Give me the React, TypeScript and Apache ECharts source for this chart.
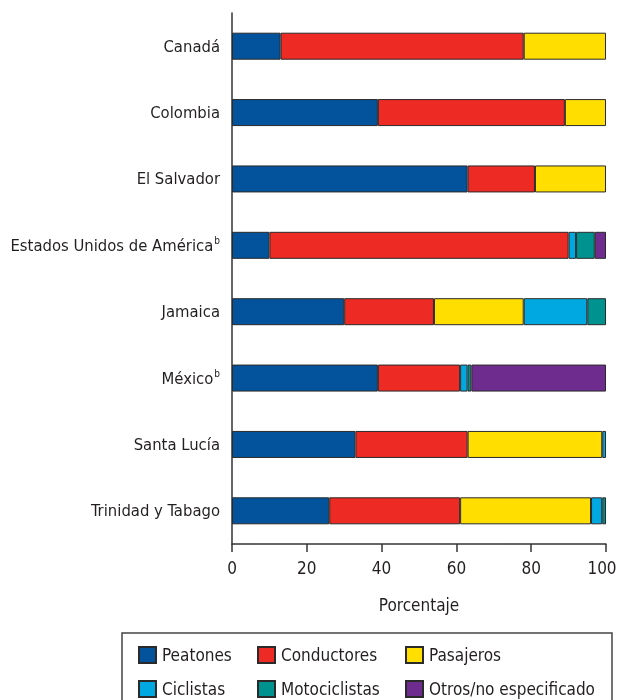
import React, { useEffect, useRef } from "react";
import * as echarts from "echarts";

const categories = [
  "Canadá",
  "Colombia",
  "El Salvador",
  "Estados Unidos de América",
  "Jamaica",
  "México",
  "Santa Lucía",
  "Trinidad y Tabago",
];
const superscripts = ["", "", "", "b", "", "b", "", ""];

const peatones = [13, 39, 63, 10, 30, 39, 33, 26];
const conductores = [65, 50, 18, 80, 24, 22, 30, 35];
const pasajeros = [22, 11, 19, 0, 24, 0, 36, 35];
const ciclistas = [0, 0, 0, 2, 17, 2, 1, 3];
const motociclistas = [0, 0, 0, 5, 5, 1, 0, 1];
const otros = [0, 0, 0, 3, 0, 36, 0, 0];

const xTicks = [0, 20, 40, 60, 80, 100];

const seriesDefs = [
  { name: "Peatones", data: peatones, color: "#03539C" },
  { name: "Conductores", data: conductores, color: "#EE2A24" },
  { name: "Pasajeros", data: pasajeros, color: "#FFDE00" },
  { name: "Ciclistas", data: ciclistas, color: "#00A8E1" },
  { name: "Motociclistas", data: motociclistas, color: "#00928F" },
  { name: "Otros/no especificado", data: otros, color: "#6F2C8F" },
];

const FONT = "'Liberation Sans Narrow', 'DejaVu Sans Condensed', 'Roboto', sans-serif";
const TEXT = "#231F20";

export default function App() {
  const ref = useRef<HTMLDivElement>(null);
  useEffect(() => {
    if (!ref.current) return;
    const chart = echarts.init(ref.current, undefined, { renderer: "svg" });
    const legendBase = {
      orient: "vertical",
      padding: 0,
      itemWidth: 17,
      itemHeight: 16,
      itemGap: 16,
      top: 646,
      icon: "rect",
      textStyle: { fontFamily: FONT, fontSize: 17, color: TEXT, padding: [0, 0, 0, 1] },
      selectedMode: false,
    };
    const maxTick = xTicks[xTicks.length - 1];
    chart.setOption({
      animation: false,
      textStyle: { fontFamily: FONT },
      grid: { left: 232, right: 12, top: 13, bottom: 156, outerBoundsMode: "none", containLabel: false },
      xAxis: {
        type: "value",
        min: 0,
        max: 100,
        interval: 20,
        name: "Porcentaje",
        nameLocation: "middle",
        nameGap: 52,
        nameTextStyle: { fontFamily: FONT, fontSize: 17, color: TEXT },
        axisLine: { show: true, lineStyle: { color: "#333", width: 1.5 } },
        axisTick: { show: true, length: 8, lineStyle: { color: "#333", width: 1.5 } },
        axisLabel: {
          margin: 15,
          fontFamily: FONT,
          fontSize: 17,
          color: TEXT,
          formatter: (v: number) =>
            xTicks.includes(v) ? (v === maxTick ? `{m|${v}}` : String(v)) : "",
          rich: {
            m: { fontFamily: FONT, fontSize: 17, color: TEXT, padding: [0, 8, 0, 0] },
          },
        },
        splitLine: { show: false },
      },
      yAxis: {
        type: "category",
        data: categories,
        inverse: true,
        axisLine: { show: true, lineStyle: { color: "#333", width: 1.5 } },
        axisTick: { show: false },
        axisLabel: {
          margin: 12,
          fontFamily: FONT,
          fontSize: 16.5,
          color: TEXT,
          formatter: (v: string) => {
            const i = categories.indexOf(v);
            const s = superscripts[i];
            return s ? `{n|${v}}{s|${s}}` : `{n|${v}}`;
          },
          rich: {
            n: { fontFamily: FONT, fontSize: 16.5, color: TEXT },
            s: { fontFamily: FONT, fontSize: 10, color: TEXT, verticalAlign: "top", padding: [0, 0, 9, 1] },
          },
        },
      },
      legend: [
        { ...legendBase, left: 138, data: ["Peatones", "Ciclistas"] },
        { ...legendBase, left: 257, data: ["Conductores", "Motociclistas"] },
        { ...legendBase, left: 405, data: ["Pasajeros", "Otros/no especificado"] },
      ],
      graphic: [
        {
          type: "rect",
          shape: { x: 122, y: 633, width: 490, height: 90 },
          style: { fill: "none", stroke: "#444", lineWidth: 1.5 },
          silent: true,
        },
      ],
      series: seriesDefs.map((s) => ({
        name: s.name,
        type: "bar",
        stack: "total",
        barWidth: 27,
        data: s.data.map((v) => (v === 0 ? null : v)),
        itemStyle: { color: s.color, borderColor: "#2a2a2a", borderWidth: 1 },
      })),
    });
    return () => chart.dispose();
  }, []);
  return (
    <div
      ref={ref}
      style={{ position: "fixed", left: 0, top: 0, width: 618, height: 700 }}
    />
  );
}
